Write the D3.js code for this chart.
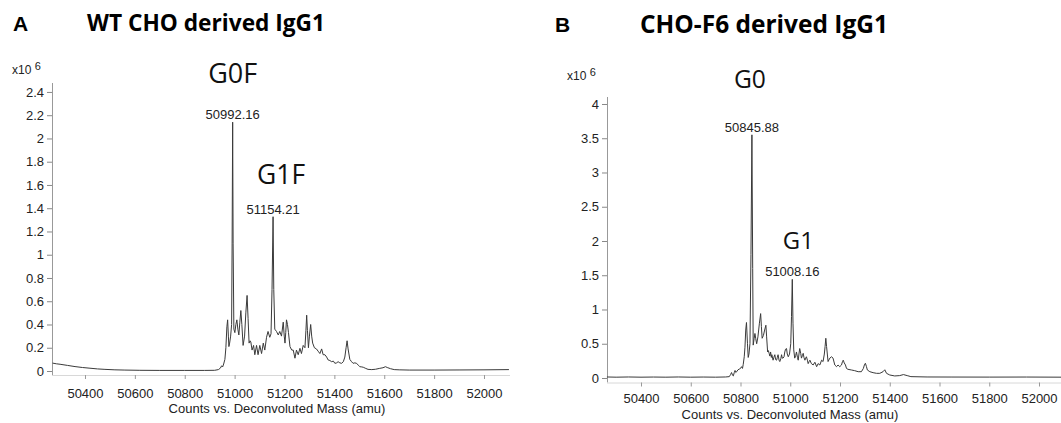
<!DOCTYPE html>
<html><head><meta charset="utf-8">
<script src="https://cdn.jsdelivr.net/npm/d3@7"></script>
<style>body{margin:0;background:#fff} svg{display:block}</style>
</head><body><svg id="c" width="1061" height="423"></svg>
<script>
// ---------------- data ----------------
const massTicks = [50400, 50600, 50800, 51000, 51200, 51400, 51600, 51800, 52000];
const countTicksA = [0, 0.2, 0.4, 0.6, 0.8, 1, 1.2, 1.4, 1.6, 1.8, 2, 2.2, 2.4];
const countTicksB = [0, 0.5, 1, 1.5, 2, 2.5, 3, 3.5, 4];
const titles = ["WT CHO derived IgG1", "CHO-F6 derived IgG1"];
const panelLetters = ["A", "B"];
const xAxisTitle = "Counts vs. Deconvoluted Mass (amu)";

// Panel A spectrum (mass in amu, counts in x10^6)
const massA = [50270,50285,50300,50330,50360,50390,50420,50450,50480,50520,50560,50620,50700,50800,50880,50920,50935,50943,50948,50952,50956,50961,50965,50969,50972,50975,50977,50980,50984,50988,50990,50992.16,50994,50997,51001,51005,51009,51013,51017,51021,51025,51029,51034,51040,51045,51050,51054,51058,51062,51065,51070,51076,51081,51088,51094,51101,51108,51115,51121,51128,51134,51141,51146,51150,51154.21,51157,51161,51168,51175,51181,51188,51195,51199,51202,51205,51208,51212,51216,51222,51229,51235,51242,51248,51255,51262,51268,51275,51282,51286,51289,51292,51296,51300,51305,51309,51313,51320,51328,51335,51342,51349,51355,51362,51369,51375,51382,51389,51396,51402,51409,51415,51422,51429,51436,51442,51447,51451,51455,51462,51469,51475,51482,51489,51496,51502,51510,51516,51526,51535,51550,51565,51580,51595,51605,51612,51625,51640,51660,51700,51800,51900,52000,52100];
const countsA = [0.068,0.062,0.058,0.048,0.038,0.030,0.024,0.018,0.014,0.010,0.008,0.006,0.005,0.005,0.005,0.006,0.012,0.025,0.045,0.035,0.06,0.10,0.20,0.38,0.44,0.30,0.21,0.24,0.30,0.40,1.10,2.14,1.10,0.36,0.33,0.40,0.44,0.36,0.31,0.42,0.52,0.40,0.22,0.30,0.50,0.65,0.45,0.24,0.26,0.25,0.18,0.22,0.14,0.22,0.14,0.22,0.15,0.24,0.18,0.29,0.34,0.29,0.32,0.70,1.327,0.70,0.36,0.34,0.31,0.34,0.30,0.42,0.30,0.24,0.33,0.44,0.40,0.33,0.21,0.18,0.18,0.11,0.18,0.14,0.195,0.15,0.22,0.20,0.35,0.48,0.35,0.20,0.30,0.40,0.30,0.24,0.20,0.19,0.17,0.15,0.19,0.14,0.14,0.12,0.095,0.09,0.08,0.085,0.066,0.07,0.08,0.07,0.066,0.08,0.12,0.20,0.26,0.19,0.10,0.08,0.066,0.07,0.066,0.05,0.037,0.035,0.032,0.022,0.014,0.012,0.015,0.022,0.028,0.037,0.03,0.02,0.012,0.01,0.008,0.008,0.009,0.01,0.012];

// Panel B spectrum
const massB = [50263,50300,50350,50400,50450,50500,50550,50600,50650,50700,50740,50755,50760,50764,50768,50771,50775,50778,50781,50784,50790,50795,50800,50804,50808,50811,50815,50818,50821,50824,50828,50831,50834,50838,50842,50845.88,50849,50851,50855,50858,50861,50865,50870,50876,50881,50884,50887,50892,50897,50902,50905,50909,50912,50915,50918,50921,50924,50926,50931,50934,50938,50941,50945,50948,50951,50955,50958,50962,50965,50968,50971,50975,50978,50981,50985,50988,50992,50997,51002,51005,51008.16,51011,51014,51018,51022,51025,51029,51032,51035,51038,51042,51045,51049,51052,51055,51059,51062,51065,51069,51072,51076,51079,51085,51092,51099,51106,51112,51119,51126,51132,51137,51140,51143,51146,51149,51152,51159,51166,51172,51179,51186,51192,51199,51206,51210,51213,51217,51222,51226,51232,51246,51259,51273,51286,51294,51298,51302,51306,51310,51320,51333,51347,51360,51373,51380,51387,51400,51420,51440,51455,51470,51485,51550,51650,51800,51950,52090];
const countsB = [0.015,0.012,0.015,0.012,0.014,0.012,0.015,0.012,0.014,0.012,0.015,0.02,0.05,0.08,0.04,0.03,0.08,0.11,0.08,0.09,0.12,0.13,0.14,0.165,0.14,0.20,0.31,0.45,0.70,0.81,0.50,0.30,0.35,0.50,1.80,3.55,1.60,0.48,0.58,0.65,0.58,0.50,0.60,0.80,0.94,0.75,0.58,0.62,0.70,0.77,0.60,0.38,0.40,0.36,0.32,0.38,0.30,0.34,0.26,0.30,0.34,0.27,0.26,0.30,0.34,0.26,0.24,0.28,0.34,0.29,0.29,0.31,0.38,0.42,0.43,0.35,0.31,0.35,0.50,0.90,1.44,0.80,0.41,0.29,0.33,0.38,0.30,0.26,0.35,0.43,0.36,0.29,0.33,0.36,0.30,0.26,0.29,0.31,0.26,0.21,0.24,0.26,0.21,0.19,0.23,0.165,0.21,0.19,0.26,0.24,0.35,0.46,0.58,0.46,0.35,0.24,0.29,0.31,0.29,0.19,0.165,0.19,0.165,0.19,0.24,0.26,0.22,0.19,0.14,0.127,0.117,0.107,0.092,0.092,0.14,0.19,0.215,0.17,0.117,0.092,0.078,0.068,0.068,0.092,0.12,0.068,0.044,0.03,0.035,0.05,0.035,0.02,0.015,0.014,0.013,0.014,0.012];

const peakMassA = [50992.16, 51154.21];
const peakCountA = [2.14, 1.327];
const glycoformA = ["G0F", "G1F"];
const peakMassB = [50845.88, 51008.16];
const peakCountB = [3.55, 1.44];
const glycoformB = ["G0", "G1"];

// ---------------- layout ----------------
const svg = d3.select("#c");
const sans = "'Liberation Sans', Arial, Helvetica, sans-serif";
const display = "'Open Sans', 'Noto Sans', sans-serif";

function fitWidth(sel, target) {
  const node = sel.node();
  const fs = parseFloat(sel.attr("font-size"));
  const w = node.getComputedTextLength();
  sel.attr("font-size", (fs * target / w).toFixed(2));
}

const panels = [
  {mass: massA, counts: countsA, ticks: countTicksA, peaksM: peakMassA, peaksC: peakCountA, glyco: glycoformA,
   x0: 52, x1: 510, dom: [50267.7, 52104.3], y0: 371, yTop: 83, yTopVal: 2.477, axisY: 375,
   tickLabelY: 397.5, axisTitleY: 413, titleLetterX: 13, letterY: 31,
   titleX: 87, titleY: 31, titleW: 238, expX: 12, expY: 74,
   glyOff: [[0, -39], [8, -33]], glyW: [49, 48]},
  {mass: massB, counts: countsB, ticks: countTicksB, peaksM: peakMassB, peaksC: peakCountB, glyco: glycoformB,
   x0: 607, x1: 1061, dom: [50263.3, 52088.4], y0: 378, yTop: 97, yTopVal: 4.102, axisY: 382.5,
   tickLabelY: 402.5, axisTitleY: 419, titleLetterX: 555, letterY: 32,
   titleX: 640, titleY: 33, titleW: 248, expX: 567, expY: 80,
   glyOff: [[-2, -47], [6, -30]], glyW: [32, 31]}
];

panels.forEach((p, i) => {
  const g = svg.append("g");
  const x = d3.scaleLinear().domain(p.dom).range([p.x0, p.x1]);
  const y = d3.scaleLinear().domain([0, p.yTopVal]).range([p.y0, p.yTop]);

  // panel letter and title
  g.append("text").attr("x", p.titleLetterX).attr("y", p.letterY)
    .attr("font-family", sans).attr("font-weight", 700).attr("font-size", 21).attr("fill", "#000")
    .text(panelLetters[i]);
  const t = g.append("text").attr("x", p.titleX).attr("y", p.titleY)
    .attr("font-family", display).attr("font-weight", 700).attr("font-size", 22).attr("fill", "#000")
    .text(titles[i]);
  fitWidth(t, p.titleW);

  // exponent label
  const ex = g.append("text").attr("x", p.expX).attr("y", p.expY)
    .attr("font-family", sans).attr("font-size", 12).attr("fill", "#222");
  ex.append("tspan").text("x10 ");
  ex.append("tspan").attr("dy", -4).attr("font-size", 11).text("6");

  // y axis
  const ya = d3.axisLeft(y).tickValues(p.ticks).tickSize(5).tickPadding(3)
    .tickFormat(d => String(+d.toFixed(1)));
  const yg = g.append("g").attr("transform", `translate(${p.x0},0)`).call(ya);
  yg.select(".domain").remove();
  yg.selectAll(".tick line").attr("stroke", "#888");
  yg.selectAll(".tick text").attr("font-family", sans).attr("font-size", 13).attr("fill", "#222");
  g.append("line").attr("x1", p.x0 + 0.5).attr("x2", p.x0 + 0.5).attr("y1", p.yTop).attr("y2", p.axisY)
    .attr("stroke", "#999").attr("stroke-width", 1);

  // x axis
  const xa = d3.axisBottom(x).tickValues(massTicks).tickSize(4).tickPadding(0).tickFormat(d3.format("d"));
  const xg = g.append("g").attr("transform", `translate(0,${p.axisY})`).call(xa);
  xg.select(".domain").attr("stroke", "#d8d8d8").attr("d", `M${p.x0},0.5H${p.x1}`);
  xg.selectAll(".tick line").attr("stroke", "#999");
  xg.selectAll(".tick text").attr("font-family", sans).attr("font-size", 13).attr("fill", "#222")
    .attr("dy", null).attr("y", p.tickLabelY - p.axisY);
  g.append("text").attr("x", i === 0 ? 277 : 790).attr("y", p.axisTitleY).attr("text-anchor", "middle")
    .attr("font-family", sans).attr("font-size", 13).attr("fill", "#222").text(xAxisTitle);

  // spectrum
  const pts = p.mass.map((m, k) => [m, p.counts[k]]);
  const line = d3.line().x(d => x(d[0])).y(d => y(d[1]));
  g.append("path").attr("d", line(pts)).attr("fill", "none")
    .attr("stroke", "#3a3a3a").attr("stroke-width", 1).attr("stroke-linejoin", "round");

  // peak labels and glycoform annotations
  p.peaksM.forEach((m, k) => {
    const px = x(m), py = y(p.peaksC[k]);
    g.append("text").attr("x", px).attr("y", py - 3).attr("text-anchor", "middle")
      .attr("font-family", sans).attr("font-size", 13).attr("fill", "#222")
      .text(d3.format(".2f")(m));
    const a = g.append("text").attr("x", px + p.glyOff[k][0]).attr("y", py + p.glyOff[k][1])
      .attr("text-anchor", "middle").attr("font-family", display).attr("font-size", 22).attr("fill", "#111")
      .text(p.glyco[k]);
    fitWidth(a, p.glyW[k]);
  });
});
</script></body></html>
